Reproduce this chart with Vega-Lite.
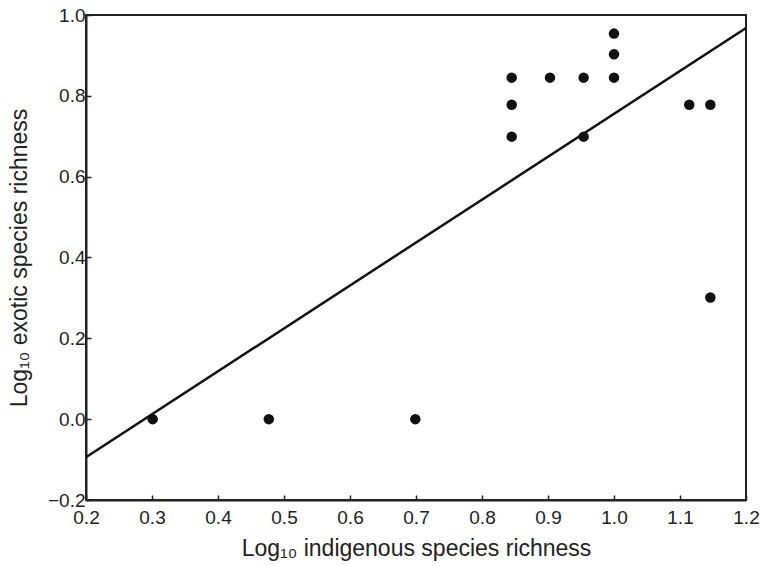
{
  "$schema": "https://vega.github.io/schema/vega-lite/v6.json",
  "width": 660,
  "height": 485,
  "autosize": {"type": "none"},
  "padding": {"left": 86, "top": 15, "right": 16, "bottom": 66},
  "background": "white",
  "config": {
    "view": {"stroke": "#222", "strokeWidth": 2},
    "font": "Liberation Sans",
    "axis": {
      "grid": false,
      "domainColor": "#222",
      "domainWidth": 2,
      "tickColor": "#222",
      "tickWidth": 1.5,
      "tickSize": -5,
      "labelFontSize": 19,
      "labelColor": "#222",
      "labelFlush": false,
      "labelOverlap": false,
      "titleFontSize": 23,
      "titleFontWeight": "normal",
      "titleColor": "#222",
      "labelFont": "Liberation Sans",
      "titleFont": "Liberation Sans"
    }
  },
  "datasets": {
    "pts": [
      {"x": 0.301, "y": 0.0},
      {"x": 0.477, "y": 0.0},
      {"x": 0.699, "y": 0.0},
      {"x": 0.845, "y": 0.845},
      {"x": 0.845, "y": 0.778},
      {"x": 0.845, "y": 0.699},
      {"x": 0.903, "y": 0.845},
      {"x": 0.954, "y": 0.845},
      {"x": 0.954, "y": 0.699},
      {"x": 1.0, "y": 0.845},
      {"x": 1.0, "y": 0.903},
      {"x": 1.0, "y": 0.954},
      {"x": 1.114, "y": 0.778},
      {"x": 1.146, "y": 0.778},
      {"x": 1.146, "y": 0.301}
    ],
    "fit": [
      {"x": 0.2, "y": -0.094},
      {"x": 1.2, "y": 0.968}
    ]
  },
  "layer": [
    {
      "data": {"name": "fit"},
      "mark": {"type": "line", "color": "#111", "strokeWidth": 2.5, "clip": true},
      "encoding": {
        "x": {"field": "x", "type": "quantitative", "scale": {"domain": [0.2, 1.2], "nice": false, "zero": false},
          "axis": {"values": [0.2,0.3,0.4,0.5,0.6,0.7,0.8,0.9,1.0,1.1,1.2], "format": ".1f", "labelPadding": 13, "title": "Log₁₀ indigenous species richness", "titlePadding": 10}},
        "y": {"field": "y", "type": "quantitative", "scale": {"domain": [-0.2, 1.0], "nice": false, "zero": false},
          "axis": {"values": [-0.2,0,0.2,0.4,0.6,0.8,1.0], "format": ".1f", "labelPadding": 6, "title": "Log₁₀ exotic species richness", "titlePadding": 16}}
      }
    },
    {
      "data": {"name": "pts"},
      "mark": {"type": "circle", "color": "#111", "opacity": 1, "size": 110},
      "encoding": {
        "x": {"field": "x", "type": "quantitative"},
        "y": {"field": "y", "type": "quantitative"}
      }
    }
  ]
}
